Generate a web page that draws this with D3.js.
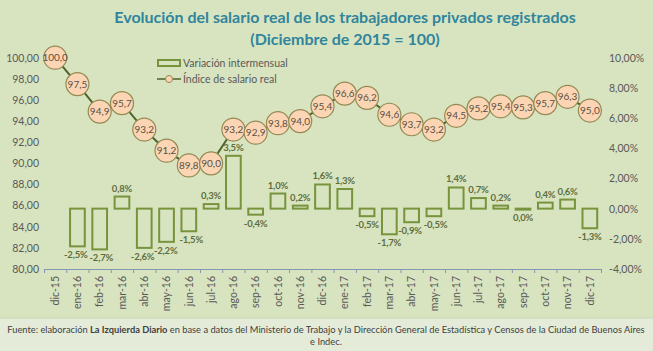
<!DOCTYPE html>
<html>
<head>
<meta charset="utf-8">
<script src="https://cdn.jsdelivr.net/npm/d3@7"></script>
<style>
  body { margin: 0; background: #d8e4c0; }
  svg { display: block; font-family: Lato, "Liberation Sans", sans-serif; }
</style>
</head>
<body>
<div id="container"></div>
<script>
/* DATA */
const months = ["dic-15","ene-16","feb-16","mar-16","abr-16","may-16","jun-16","jul-16","ago-16","sep-16","oct-16","nov-16","dic-16",
  "ene-17","feb-17","mar-17","abr-17","may-17","jun-17","jul-17","ago-17","sep-17","oct-17","nov-17","dic-17"];
// índice de salario real (dic 2015 = 100)
const indice = [100.0,97.5,94.9,95.7,93.2,91.2,89.8,90.0,93.2,92.9,93.8,94.0,95.4,96.6,96.2,94.6,93.7,93.2,94.5,95.2,95.4,95.3,95.7,96.3,95.0];
// variación intermensual en % (no hay dato para dic-15)
const variacion = [null,-2.5,-2.7,0.8,-2.6,-2.2,-1.5,0.3,3.5,-0.4,1.0,0.2,1.6,1.3,-0.5,-1.7,-0.9,-0.5,1.4,0.7,0.2,0.0,0.4,0.6,-1.3];
const leftTicks = [80,82,84,86,88,90,92,94,96,98,100];
const rightTicks = [-4,-2,0,2,4,6,8,10];

const width = 653, height = 351;
const fmtComma = (v, d) => v.toFixed(d).replace(".", ",");

const svg = d3.select("#container").append("svg")
  .attr("width", width).attr("height", height);

// background bands
svg.append("rect").attr("width", width).attr("height", 318).attr("fill", "#d8e4c0");
svg.append("rect").attr("y", 318).attr("width", width).attr("height", 33).attr("fill", "#e4ecd9");
svg.append("line").attr("x1", 0).attr("x2", width).attr("y1", 318).attr("y2", 318).attr("stroke", "#c9d6b3");

/* SCALES */
const x = d3.scaleBand().domain(months).range([44, 601]);
const xIdx = d3.scaleLinear().domain([0, months.length]).range([44, 601]);
const yL = d3.scaleLinear().domain([80, 100]).range([269, 57.7]);
const yR = d3.scaleLinear().domain([-4, 10]).range([269, 57.7]);

/* TITLE */
const title = svg.append("g").attr("fill", "#31859c").attr("font-weight", "bold")
  .attr("font-size", 16).attr("text-anchor", "middle");
title.append("text").attr("x", 345).attr("y", 23).text("Evolución del salario real de los trabajadores privados registrados");
title.append("text").attr("x", 345).attr("y", 45).text("(Diciembre de 2015 = 100)");

/* AXES */
const axisLeft = svg.append("g").attr("transform", "translate(39,0)")
  .call(d3.axisLeft(yL).tickValues(leftTicks).tickSize(0).tickPadding(0).tickFormat(d => fmtComma(d, 2)));
const axisRight = svg.append("g").attr("transform", "translate(609,0)")
  .call(d3.axisRight(yR).tickValues(rightTicks).tickSize(0).tickPadding(0).tickFormat(d => fmtComma(d, 2) + "%"));
[axisLeft, axisRight].forEach(g => {
  g.select(".domain").remove();
  g.selectAll("text").attr("font-size", 10.5).attr("fill", "#595959").attr("font-family", "Lato, sans-serif");
});

const xTicks = svg.append("g").attr("transform", "translate(0,269)")
  .call(d3.axisBottom(xIdx).ticks(months.length).tickSize(4).tickFormat(""));
xTicks.selectAll("path, line").attr("stroke", "#8497b0");

const xLabels = svg.append("g").attr("transform", "translate(0,269)")
  .call(d3.axisBottom(x).tickSize(0));
xLabels.select(".domain").remove();
xLabels.selectAll("text")
  .attr("font-size", 10.5).attr("fill", "#595959").attr("font-family", "Lato, sans-serif")
  .attr("text-anchor", "end").attr("dy", "0.35em")
  .attr("transform", "translate(0,7) rotate(-90)").attr("x", 0).attr("y", 0);

/* BARS */
const barData = months.map((m, i) => ({ m, v: variacion[i] })).filter(d => d.v !== null);
const bw = x.bandwidth() * 0.66;
svg.selectAll("rect.bar").data(barData).join("rect")
  .attr("class", "bar")
  .attr("x", d => x(d.m) + (x.bandwidth() - bw) / 2)
  .attr("y", d => yR(Math.max(0, d.v)))
  .attr("width", bw)
  .attr("height", d => Math.max(1, Math.abs(yR(d.v) - yR(0))))
  .attr("fill", "none").attr("stroke", "#77933c").attr("stroke-width", 2);

const barLabs = svg.selectAll("text.barlab").data(barData).join("text")
  .attr("class", "barlab")
  .attr("x", d => x(d.m) + x.bandwidth() / 2)
  .attr("y", d => d.v > 0 ? yR(d.v) - 5 : yR(d.v) + 12)
  .attr("text-anchor", "middle").attr("font-size", 9.5).attr("font-weight", "bold")
  .attr("letter-spacing", -0.2)
  .attr("fill", "#5e6e3e")
  .text(d => fmtComma(d.v, 1) + "%");

// push apart neighbouring labels that collide
const labNodes = barLabs.nodes();
for (let i = 1; i < labNodes.length; i++) {
  const a = labNodes[i - 1].getBBox(), b = labNodes[i].getBBox();
  const ox = a.x + a.width - b.x, oy = Math.min(a.y + a.height, b.y + b.height) - Math.max(a.y, b.y);
  if (ox > -1 && oy > 0) {
    const s = (ox + 1.5) / 2;
    labNodes[i - 1].setAttribute("x", +labNodes[i - 1].getAttribute("x") - s);
    labNodes[i].setAttribute("x", +labNodes[i].getAttribute("x") + s);
  }
}

/* LINE */
const lineData = months.map((m, i) => ({ m, v: indice[i] }));
const line = d3.line().x(d => x(d.m) + x.bandwidth() / 2).y(d => yL(d.v));
svg.append("path").datum(lineData).attr("d", line)
  .attr("fill", "none").attr("stroke", "#4f6228").attr("stroke-width", 2);

const pts = svg.selectAll("g.pt").data(lineData).join("g").attr("class", "pt")
  .attr("transform", d => `translate(${x(d.m) + x.bandwidth() / 2},${yL(d.v)})`);
pts.append("circle").attr("r", 11.5).attr("fill", "#fcd5b5").attr("stroke", "#948a54").attr("stroke-width", 1.2);
pts.append("text").attr("text-anchor", "middle").attr("dy", "0.35em")
  .attr("font-size", 10).attr("fill", "#5a5040")
  .text(d => fmtComma(d.v, 1));

/* LEGEND */
const leg = svg.append("g").attr("font-size", 10.5).attr("fill", "#595959");
leg.append("rect").attr("x", 158).attr("y", 60).attr("width", 22).attr("height", 6)
  .attr("fill", "none").attr("stroke", "#77933c").attr("stroke-width", 2);
leg.append("text").attr("x", 183).attr("y", 63).attr("dy", "0.35em").text("Variación intermensual");
leg.append("line").attr("x1", 157).attr("x2", 181).attr("y1", 79).attr("y2", 79).attr("stroke", "#4f6228").attr("stroke-width", 1.5);
leg.append("circle").attr("cx", 169).attr("cy", 79).attr("r", 3.5).attr("fill", "#fcd5b5").attr("stroke", "#948a54");
leg.append("text").attr("x", 183).attr("y", 79).attr("dy", "0.35em").text("Índice de salario real");

/* SOURCE */
const src = svg.append("g").attr("font-size", 9.3).attr("fill", "#404040").attr("text-anchor", "middle");
const l1 = src.append("text").attr("x", 326).attr("y", 333);
l1.append("tspan").text("Fuente: elaboración ");
l1.append("tspan").attr("font-weight", "bold").text("La Izquierda Diario");
l1.append("tspan").text(" en base a datos del Ministerio de Trabajo y la Dirección General de Estadística y Censos de la Ciudad de Buenos Aires");
src.append("text").attr("x", 326).attr("y", 345).text("e Indec.");
</script>
</body>
</html>
